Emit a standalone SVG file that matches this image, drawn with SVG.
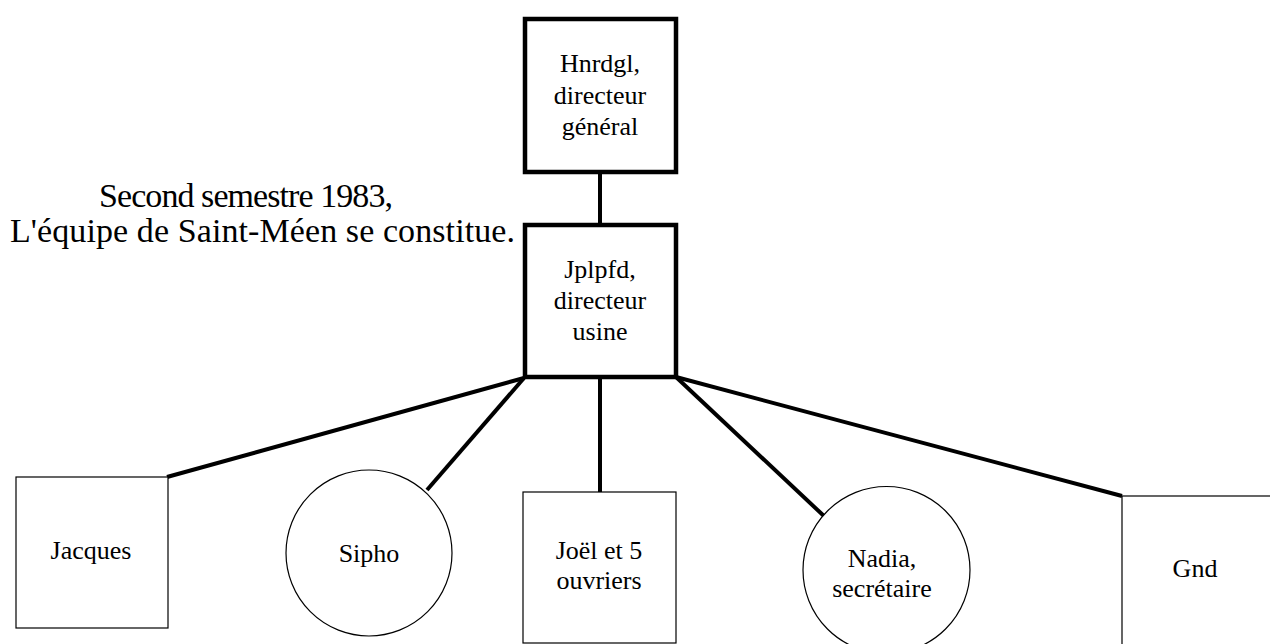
<svg xmlns="http://www.w3.org/2000/svg" width="1270" height="644" viewBox="0 0 1270 644">
<style>
text{fill:#000;}
.lbl{font-size:26px;text-anchor:middle;}
.cap{font-size:34px;}
.big{fill:#fff;stroke:#000;stroke-width:4.5;}
.small{fill:#fff;stroke:#000;stroke-width:1.2;}
.conn{stroke:#000;stroke-width:4;fill:none;}
</style>
<rect width="1270" height="644" fill="#fff"/>
<g font-family="'Liberation Serif', 'DejaVu Serif', 'Times New Roman', Times, serif">
<g id="caption">
<text class="cap" x="99" y="207" textLength="294">Second semestre 1983,</text>
<text class="cap" x="10" y="242" textLength="505">L'équipe de Saint-Méen se constitue.</text>
</g>
<g id="connectors">
<line class="conn" x1="600" y1="172" x2="600" y2="225"/>
<line class="conn" x1="524" y1="378" x2="167" y2="477"/>
<line class="conn" x1="524" y1="378" x2="427" y2="490"/>
<line class="conn" x1="600" y1="378" x2="600" y2="492"/>
<line class="conn" x1="676" y1="377" x2="825" y2="517"/>
<line class="conn" x1="676" y1="377" x2="1122" y2="496"/>
</g>
<g id="hnrdgl">
<rect class="big" x="525" y="19" width="151" height="153"/>
<text class="lbl" x="600" y="72">Hnrdgl,</text>
<text class="lbl" x="600" y="104">directeur</text>
<text class="lbl" x="600" y="135">général</text>
</g>
<g id="jplpfd">
<rect class="big" x="525" y="225" width="151" height="152"/>
<text class="lbl" x="600" y="278">Jplpfd,</text>
<text class="lbl" x="600" y="309">directeur</text>
<text class="lbl" x="600" y="340">usine</text>
</g>
<g id="jacques">
<rect class="small" x="16" y="477" width="152" height="151"/>
<text class="lbl" x="91" y="559">Jacques</text>
</g>
<g id="sipho">
<circle class="small" cx="369" cy="553" r="83"/>
<text class="lbl" x="369" y="562">Sipho</text>
</g>
<g id="joel">
<rect class="small" x="523" y="492" width="153" height="151"/>
<text class="lbl" x="599" y="559">Joël et 5</text>
<text class="lbl" x="599" y="589">ouvriers</text>
</g>
<g id="nadia">
<circle class="small" cx="886.5" cy="570" r="83.5"/>
<text class="lbl" x="882" y="567">Nadia,</text>
<text class="lbl" x="882" y="597">secrétaire</text>
</g>
<g id="gnd">
<rect class="small" x="1122" y="496" width="200" height="200"/>
<text class="lbl" x="1195" y="577">Gnd</text>
</g>
</g>
</svg>
